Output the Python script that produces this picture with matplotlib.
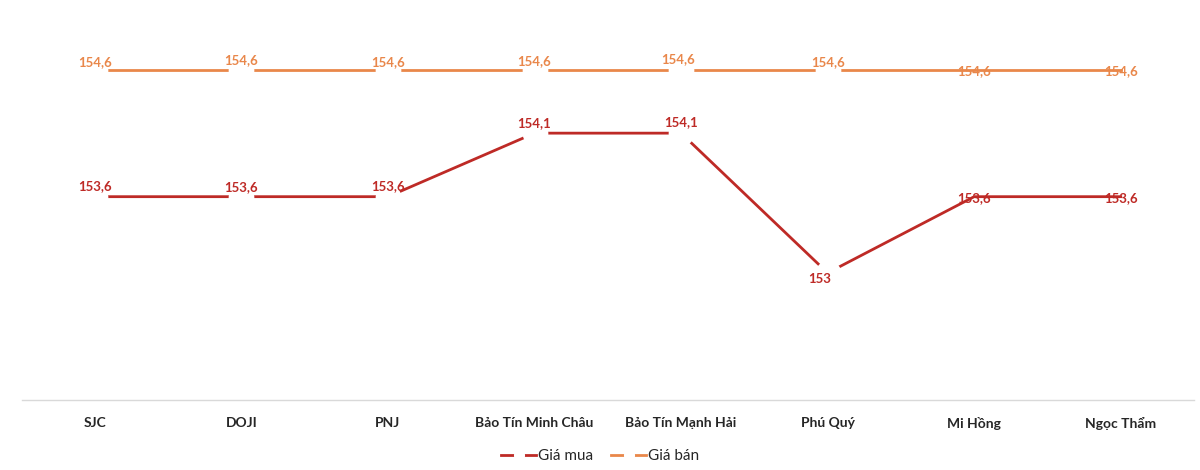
import matplotlib
matplotlib.use("Agg")
import matplotlib.pyplot as plt
from matplotlib.lines import Line2D
import numpy as np

plt.rcParams['font.family'] = ['Lato', 'DejaVu Sans']

categories = ["SJC", "DOJI", "PNJ", "Bảo Tín Minh Châu", "Bảo Tín Mạnh Hải",
              "Phú Quý", "Mi Hồng", "Ngọc Thẩm"]
gia_mua = [153.6, 153.6, 153.6, 154.1, 154.1, 153.0, 153.6, 153.6]
gia_ban = [154.6, 154.6, 154.6, 154.6, 154.6, 154.6, 154.6, 154.6]
mua_labels = ["153,6", "153,6", "153,6", "154,1", "154,1", "153", "153,6", "153,6"]
ban_labels = ["154,6"] * 8

red = "#BE2A26"
orange = "#E9874A"

# label offsets in pixels (dx, dy)
mua_off = [(0, 11), (0, 10), (0, 11), (0, 10), (0, 11), (-8, -6), (0, -1), (0, -1)]
ban_off = [(0, 8), (0, 10), (0, 8), (0, 9), (-3, 11), (0, 8), (0, -1), (0, -1)]

fig = plt.figure(figsize=(12, 4.7), dpi=100)
ax = fig.add_axes([0.018, 0.149, 0.977, 0.811])

x = np.arange(len(categories))
gap = list(range(6))
ax.plot(x, gia_mua, color=red, lw=2, marker='o', ms=18.5, mfc='white',
        mec='none', markevery=gap, zorder=2)
ax.plot(x, gia_ban, color=orange, lw=2, marker='o', ms=18.5, mfc='white',
        mec='none', markevery=gap, zorder=2)

for i in range(len(x)):
    ax.annotate(mua_labels[i], (x[i], gia_mua[i]), xytext=mua_off[i],
                textcoords='offset pixels', ha='center', va='center',
                color=red, fontsize=9.5, fontweight='bold', zorder=3)
    ax.annotate(ban_labels[i], (x[i], gia_ban[i]), xytext=ban_off[i],
                textcoords='offset pixels', ha='center', va='center',
                color=orange, fontsize=9.5, fontweight='bold', zorder=3)

ax.set_xlim(-0.5, len(categories) - 0.5)
ax.set_ylim(152, 155)
ax.set_yticks([])
ax.set_xticks(x)
ax.set_xticklabels(categories, fontsize=10, color='#262626', fontweight='bold')
ax.tick_params(axis='x', length=0, pad=12)
for s in ['top', 'right', 'left']:
    ax.spines[s].set_visible(False)
ax.spines['bottom'].set_color('#D9D9D9')
ax.spines['bottom'].set_linewidth(1)

handles = [
    Line2D([], [], color=red, lw=2, marker='o', ms=8, mfc='white', mec='none'),
    Line2D([], [], color=orange, lw=2, marker='o', ms=8, mfc='white', mec='none'),
]
fig.legend(handles, ["Giá mua", "Giá bán"], loc='center', bbox_to_anchor=(0.5, 0.03),
           ncol=2, frameon=False, fontsize=11, handlelength=2.3, handletextpad=0.1,
           columnspacing=1.2, labelcolor='#262626')

fig.savefig("out.png", dpi=100)
